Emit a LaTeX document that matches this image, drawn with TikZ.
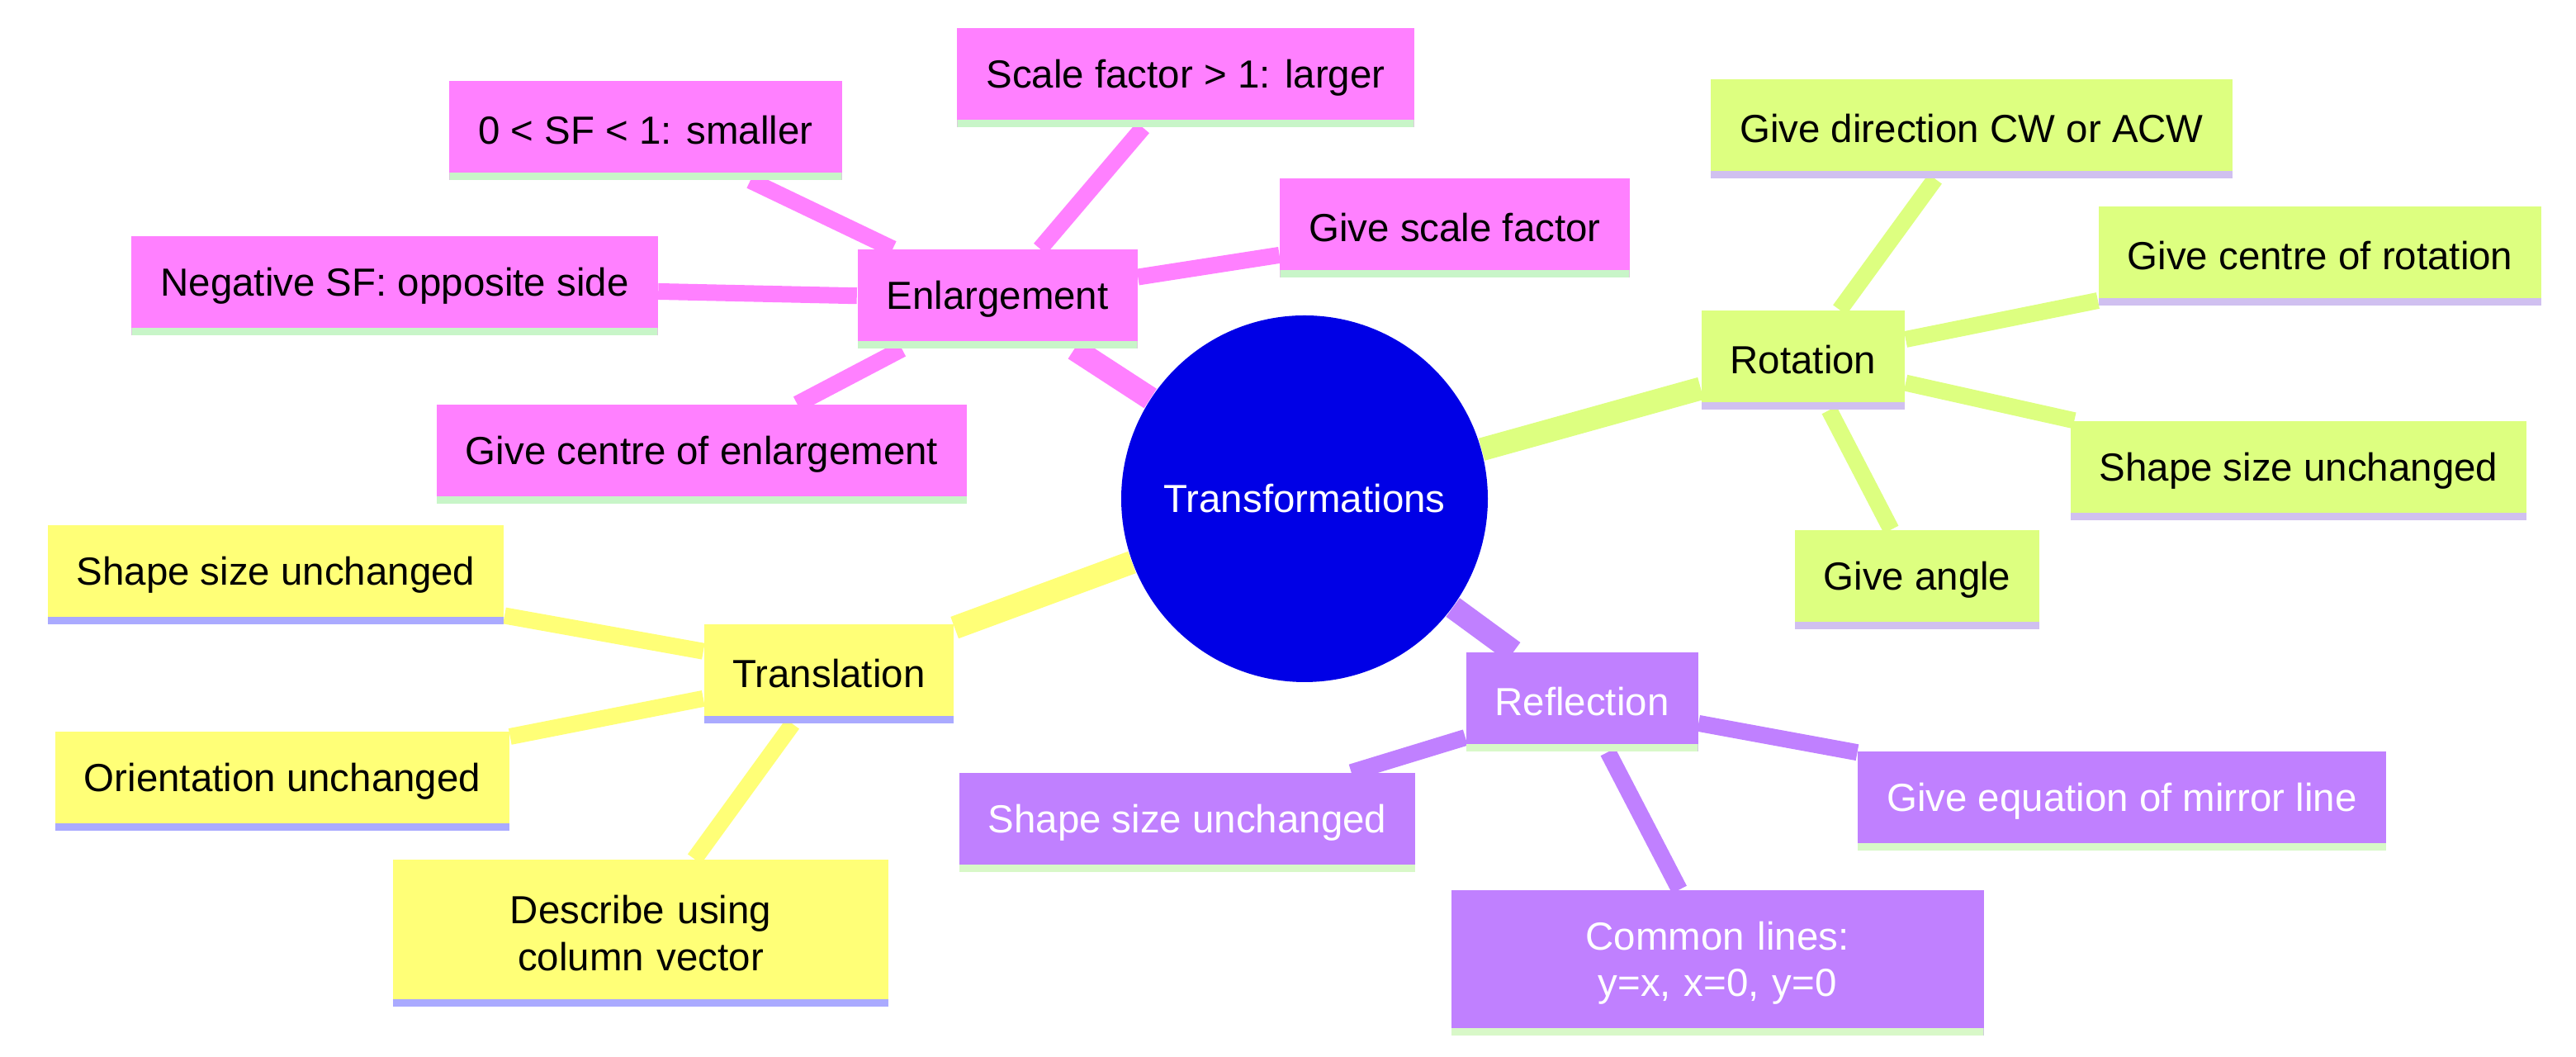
\documentclass[tikz,border=0pt]{standalone}
\usepackage{fontspec}
\setmainfont{Liberation Sans}
\usetikzlibrary{backgrounds}
\definecolor{enlc}{HTML}{FF80FF}
\definecolor{enll}{HTML}{C8F5C8}
\definecolor{rotc}{HTML}{DDFF80}
\definecolor{rotl}{HTML}{D0C0F0}
\definecolor{trac}{HTML}{FFFF77}
\definecolor{tral}{HTML}{AAAAFF}
\definecolor{refc}{HTML}{C080FF}
\definecolor{refl}{HTML}{D8F8C8}
\definecolor{rootc}{HTML}{0000E6}
\tikzset{
  box/.style={rectangle, inner xsep=0.35cm, minimum height=1.2cm, font=\fontsize{13.5}{16}\selectfont},
  uline/.style={path picture={\fill[#1] ([yshift=0.09cm]path picture bounding box.south west) rectangle (path picture bounding box.south east);}},
  enl/.style={box, fill=enlc, uline=enll},
  rot/.style={box, fill=rotc, uline=rotl},
  tra/.style={box, fill=trac, uline=tral},
  ref/.style={box, fill=refc, uline=refl, text=white},
  trunk/.style={line width=0.28cm},
  twig/.style={line width=0.2cm}
}
\begin{document}
\begin{tikzpicture}
\useasboundingbox (0,0) rectangle (31.2,12.8);
% root
\node[circle, fill=rootc, minimum size=4.44cm, text=white, font=\fontsize{13.5}{16}\selectfont] (root) at (15.8,6.76) {Transformations};
% enlargement
\node[enl] (enl) at (12.08,9.18) {Enlargement};
\node[enl] (e1) at (14.36,11.86) {Scale factor > 1: larger};
\node[enl] (e2) at (7.82,11.22) {0 < SF < 1: smaller};
\node[enl] (e3) at (17.62,10.04) {Give scale factor};
\node[enl] (e4) at (4.78,9.34) {Negative SF: opposite side};
\node[enl] (e5) at (8.5,7.3) {Give centre of enlargement};
% rotation
\node[rot] (rot) at (21.84,8.44) {Rotation};
\node[rot] (r1) at (23.88,11.24) {Give direction CW or ACW};
\node[rot] (r2) at (28.1,9.7) {Give centre of rotation};
\node[rot] (r3) at (27.84,7.1) {Shape size unchanged};
\node[rot] (r4) at (23.22,5.78) {Give angle};
% translation
\node[tra] (tra) at (10.04,4.64) {Translation};
\node[tra] (t1) at (3.34,5.84) {Shape size unchanged};
\node[tra] (t2) at (3.42,3.34) {Orientation unchanged};
\node[tra, text width=5.3cm, align=center, minimum height=1.78cm] (t3) at (7.76,1.5) {Describe using column vector};
% reflection
\node[ref] (ref) at (19.16,4.3) {Reflection};
\node[ref] (f1) at (14.38,2.84) {Shape size unchanged};
\node[ref] (f2) at (25.7,3.1) {Give equation of mirror line};
\node[ref, text width=5.75cm, align=center, minimum height=1.76cm] (f3) at (20.8,1.14) {Common lines: y=x, x=0, y=0};
\begin{scope}[on background layer]
  \draw[trunk, enlc] (root) -- (enl);
  \draw[trunk, rotc] (root) -- (rot);
  \draw[trunk, trac] (root) -- (tra);
  \draw[trunk, refc] (root) -- (ref);
  \foreach \n in {e1,e2,e3,e4,e5} \draw[twig, enlc] (enl) -- (\n);
  \foreach \n in {r1,r2,r3,r4} \draw[twig, rotc] (rot) -- (\n);
  \foreach \n in {t1,t2,t3} \draw[twig, trac] (tra) -- (\n);
  \foreach \n in {f1,f2,f3} \draw[twig, refc] (ref) -- (\n);
\end{scope}
\end{tikzpicture}
\end{document}
